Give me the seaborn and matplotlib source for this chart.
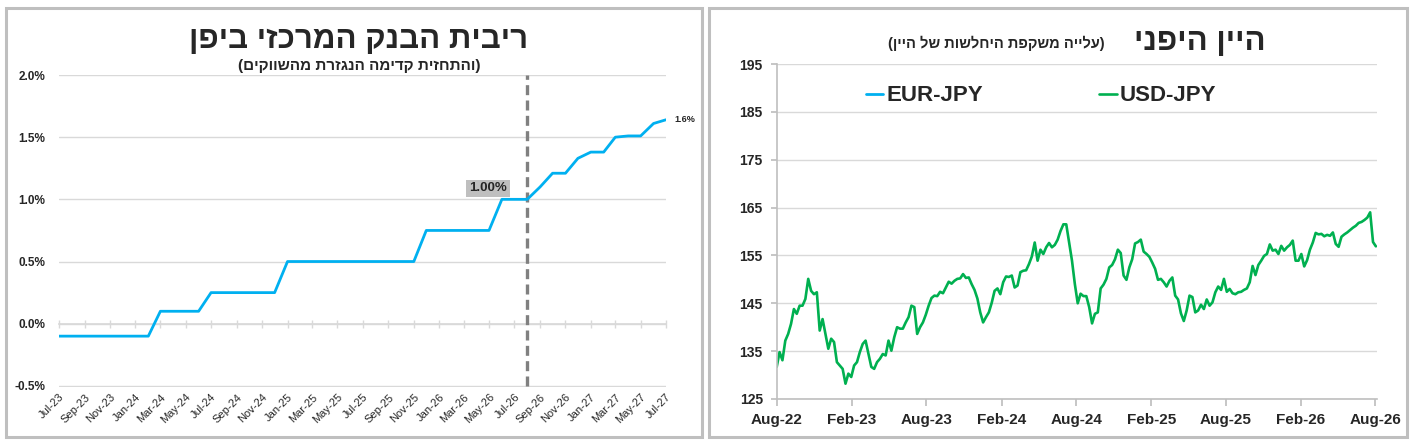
"""
Two panels: BoJ policy rate (with market-implied path) and USD-JPY.
"""
import numpy as np
import pandas as pd
import matplotlib
matplotlib.use("Agg")
import matplotlib.pyplot as plt
import matplotlib.dates as mdates
from matplotlib.patches import Rectangle
import seaborn as sns

# ── data ───────────────────────────────────────────────────────────────────
rate_start = "2023-07-01"          # monthly points from Jul-23
boj_rate = [-0.10, -0.10, -0.10, -0.10, -0.10, -0.10, -0.10, -0.10,
            0.10, 0.10, 0.10, 0.10,
            0.25, 0.25, 0.25, 0.25, 0.25, 0.25,
            0.50, 0.50, 0.50, 0.50, 0.50, 0.50, 0.50, 0.50, 0.50, 0.50, 0.50,
            0.75, 0.75, 0.75, 0.75, 0.75, 0.75,
            1.00, 1.00, 1.00,
            1.10, 1.21, 1.21, 1.33, 1.38, 1.38, 1.50, 1.51, 1.51, 1.61, 1.64]
forecast_start = "2026-08-01"
boxed_month = "2026-06-01"

fx_start = "2022-08-01"            # weekly points
usd_jpy = [131.7, 134.8, 133.1, 137.2, 138.6, 140.7, 143.8, 142.8, 144.5, 144.5,
           145.9, 150.1, 147.6, 146.9, 147.3, 139.3, 141.7, 138.6, 135.5, 137.6,
           136.9, 132.7, 132.0, 131.3, 128.2, 130.3, 129.6, 132.0, 132.7, 134.8,
           136.5, 137.2, 134.4, 131.7, 131.3, 132.7, 133.4, 134.4, 134.1, 137.2,
           135.1, 137.9, 140.0, 139.7, 139.7, 141.0, 142.1, 144.5, 144.2,
           138.6, 140.0, 141.0, 142.6, 144.5, 146.1, 146.6, 146.5, 147.4, 147.1,
           148.3, 149.5, 149.1, 149.7, 150.1, 150.2, 151.1, 150.3, 150.4, 149.0,
           147.8, 146.0, 143.1, 141.0, 142.1, 143.1, 145.1, 147.6, 148.1, 146.9,
           149.4, 150.6, 150.5, 150.8, 148.3, 148.7, 151.5, 151.8, 151.9, 153.2,
           154.8, 157.7, 153.9, 156.2, 155.3, 156.7, 157.6, 156.7, 157.2, 158.3,
           160.1, 161.5, 161.5, 157.7, 153.9, 149.0,
           145.0, 147.0, 146.5, 146.5, 144.2, 140.8, 142.8, 143.1, 148.1, 148.9,
           150.1, 152.5, 153.0, 154.2, 156.2, 155.5, 150.8, 149.9, 152.5, 154.2,
           157.5, 157.8, 158.3, 155.8, 155.3, 154.7, 153.5, 152.2, 149.9, 150.1,
           149.4, 148.5, 149.7, 150.4, 146.6, 145.8, 142.9, 141.3, 143.5, 146.6,
           146.3, 143.1, 143.5, 144.7, 143.8, 145.8, 144.5, 145.2, 147.3, 148.5,
           147.8, 150.1,
           147.4, 148.0, 147.1, 146.9, 147.3, 147.4, 147.8, 148.1, 149.4, 152.8,
           150.9, 153.0, 153.9, 154.9, 155.3, 157.3, 156.0, 156.2, 155.3, 157.0,
           156.0, 156.7, 157.2, 158.1, 153.9, 153.9, 155.3, 152.7, 154.0, 156.2,
           157.7, 159.7, 159.4, 159.5, 159.0, 159.3, 159.1, 159.8, 157.4, 156.8,
           158.9, 159.4, 159.8, 160.3, 160.8, 161.2, 161.8, 162.0, 162.4, 162.9,
           164.0, 157.8, 156.9]
eur_jpy = []                       # in the legend, no line visible

title_left = "ריבית הבנק המרכזי ביפן"
sub_left = "(והתחזית קדימה הנגזרת מהשווקים)"
title_right = "היין היפני"
sub_right = "(עלייה משקפת היחלשות של היין)"

# ── style ──────────────────────────────────────────────────────────────────
sns.set_theme(style="white")
FONTS = ["Liberation Sans", "DejaVu Sans"]
plt.rcParams["font.family"] = FONTS
BLUE, GREEN = "#00B0F0", "#00B050"
GRID, FRAME = "#D9D9D9", "#BFBFBF"


def rtl(s):
    # matplotlib lays out left-to-right: flip Hebrew and mirror brackets
    swap = {"(": ")", ")": "("}
    return "".join(swap.get(ch, ch) for ch in reversed(s))


W, H = 1414, 446
fig = plt.figure(figsize=(W / 100, H / 100), dpi=100)
fig.patch.set_facecolor("white")

# panel frames
for x0, x1 in [(6, 702), (709, 1407)]:
    fig.add_artist(Rectangle((x0 / W, 1 - 437 / H), (x1 - x0) / W, 429 / H,
                             transform=fig.transFigure, fill=False,
                             ec=FRAME, lw=2.2))

# ── left: BoJ rate ─────────────────────────────────────────────────────────
df_rate = pd.DataFrame({
    "date": pd.date_range(rate_start, periods=len(boj_rate), freq="MS"),
    "rate": boj_rate,
})
ax1 = fig.add_axes([59 / W, 1 - 386.5 / H, 607 / W, 311.5 / H])
sns.lineplot(data=df_rate, x="date", y="rate", ax=ax1, color=BLUE, lw=2)
ax1.axvline(pd.Timestamp(forecast_start), ymin=0.002, color="#808080", lw=2.4,
            ls=(0, (3, 1.6)), zorder=1)
ax1.set_xlim(df_rate["date"].iloc[0], df_rate["date"].iloc[-1])
ax1.set_ylim(-0.505, 2.0)
ax1.set_yticks(np.arange(-0.5, 2.01, 0.5))
ax1.yaxis.set_major_formatter(lambda v, p: f"{v:.1f}%")
ax1.grid(axis="y", color=GRID, lw=1)
ax1.grid(axis="x", visible=False)
for s in ax1.spines.values():
    s.set_visible(False)
ax1.set_xlabel("")
ax1.set_ylabel("")

tick_dates = df_rate["date"].iloc[::2]
ax1.set_xticks(tick_dates)
ax1.set_xticklabels([d.strftime("%b-%y") for d in tick_dates], rotation=45,
                    ha="right", rotation_mode="anchor", fontsize=8,
                    color="#262626")
ax1.tick_params(axis="x", length=0, pad=4)
ax1.tick_params(axis="y", length=0, pad=10, labelsize=8.5)
for lab in ax1.get_yticklabels():
    lab.set_fontweight("bold")

# axis line at zero with ticks crossing it
zero_ax = ax1.secondary_xaxis(0.505 / 2.505)
zero_ax.set_xticks(mdates.date2num(tick_dates))
zero_ax.tick_params(direction="inout", length=6, width=1, color=GRID,
                    labelbottom=False)
zero_ax.spines["bottom"].set_color(GRID)

i_box = df_rate.index[df_rate["date"] == pd.Timestamp(boxed_month)][0]
ax1.annotate(f"{boj_rate[i_box]:.2f}%", xy=(df_rate["date"][i_box], boj_rate[i_box]),
             xytext=(-10, 3.5), textcoords="offset points", ha="center",
             va="bottom", fontsize=9.5, fontweight="bold",
             bbox=dict(boxstyle="square,pad=0.2", fc=FRAME, ec="none"))
ax1.annotate(f"{boj_rate[-1]:.1f}%", xy=(df_rate["date"].iloc[-1], boj_rate[-1]),
             xytext=(6, 0), textcoords="offset points", ha="left",
             va="center", fontsize=6.5, fontweight="bold", annotation_clip=False)

fig.text(359 / W, 1 - 48 / H, rtl(title_left), ha="center", va="baseline",
         fontsize=22.5, fontweight="bold")
fig.text(359 / W, 1 - 70 / H, rtl(sub_left), ha="center", va="baseline",
         fontsize=11, fontweight="bold")

# ── right: USD-JPY ─────────────────────────────────────────────────────────
df_fx = pd.DataFrame({
    "date": pd.date_range(fx_start, periods=len(usd_jpy), freq="7D"),
    "usd": usd_jpy,
})
ax2 = fig.add_axes([776.7 / W, 1 - 399 / H, 600 / W, 335 / H])
eur_line, = ax2.plot(pd.to_datetime(pd.Series(eur_jpy, dtype="float64")),
                     eur_jpy, color=BLUE, lw=2, label="EUR-JPY")
sns.lineplot(data=df_fx, x="date", y="usd", ax=ax2, color=GREEN, lw=1.9,
             label="USD-JPY")
ax2.set_xlim(pd.Timestamp(fx_start), pd.Timestamp("2026-08-05"))
ax2.set_ylim(125, 195)
ax2.set_yticks(np.arange(125, 196, 10))
fx_ticks = pd.date_range(fx_start, "2026-08-01", freq="6MS")
ax2.set_xticks(fx_ticks)
ax2.set_xticklabels([d.strftime("%b-%y") for d in fx_ticks])
ax2.grid(axis="y", color=GRID, lw=1)
ax2.grid(axis="x", visible=False)
ax2.set_xlabel("")
ax2.set_ylabel("")
for side in ["top", "right"]:
    ax2.spines[side].set_visible(False)
for side in ["left", "bottom"]:
    ax2.spines[side].set_color(FRAME)
    ax2.spines[side].set_linewidth(1.2)
ax2.tick_params(axis="y", direction="out", length=4, color=FRAME, pad=6,
                labelsize=10, left=True)
ax2.tick_params(axis="x", direction="out", length=5, color=FRAME, pad=5,
                labelsize=11, bottom=True)
for lab in ax2.get_xticklabels() + ax2.get_yticklabels():
    lab.set_fontweight("bold")

handles, labels = ax2.get_legend_handles_labels()
order = [labels.index("EUR-JPY"), labels.index("USD-JPY")]
ax2.legend([handles[i] for i in order], [labels[i] for i in order],
           loc="center left", bbox_to_anchor=(0.115, 0.905), ncol=2,
           frameon=False, prop={"size": 16, "weight": "bold", "family": FONTS},
           handlelength=0.8, handletextpad=0.15, columnspacing=5.2)

fig.text(1266 / W, 1 - 50 / H, rtl(title_right), ha="right", va="baseline",
         fontsize=22.5, fontweight="bold")
fig.text(1105 / W, 1 - 48 / H, rtl(sub_right), ha="right", va="baseline",
         fontsize=10.5, fontweight="bold")

fig.savefig("out.png", dpi=100)
plt.close(fig)
